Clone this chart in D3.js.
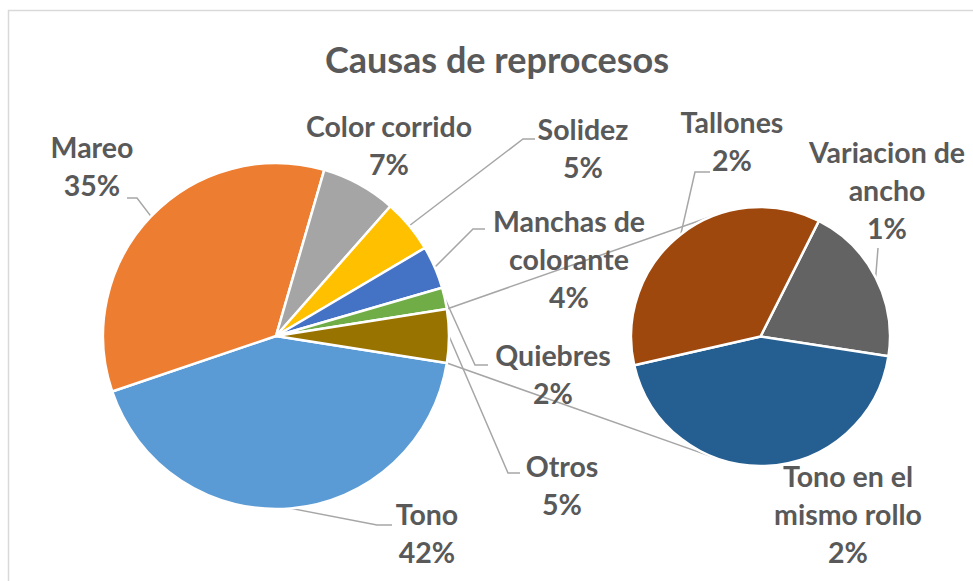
<!DOCTYPE html>
<html>
<head>
<meta charset="utf-8">
<script src="https://cdn.jsdelivr.net/npm/d3@7"></script>
<style>
	html, body { margin: 0; padding: 0; background: #fff; }
	text { font-family: Lato, "Open Sans", sans-serif; font-weight: bold; fill: #595959; }
</style>
</head>
<body>
<svg id="chart" width="973" height="581"></svg>
<script>
// main pie, clockwise starting from the lower edge of "Otros"
const mainCats = ["Tono", "Mareo", "Color corrido", "Solidez", "Manchas de colorante", "Quiebres", "Otros"]
const mainVals = [0.423, 0.347, 0.07, 0.05, 0.04, 0.02, 0.05]
const mainColours = ["#5B9BD5", "#ED7D31", "#A5A5A5", "#FFC000", "#4472C4", "#70AD47", "#997300"]

// secondary pie (breakdown of "Otros")
const subCats = ["Variacion de ancho", "Tono en el mismo rollo", "Tallones"]
const subVals = [0.01, 0.022, 0.018]
const subColours = ["#636363", "#255E91", "#9E480E"]

// how each label is split into lines
const labelLines = {
	"Manchas de colorante": ["Manchas de", "colorante"],
	"Variacion de ancho": ["Variacion de", "ancho"],
	"Tono en el mismo rollo": ["Tono en el", "mismo rollo"]
}

// label placement: centre x, first baseline, leader elbow + end (null = no leader)
const labelLayout = {
	"Tono": { x: 427, y: 525, leader: [[377, 525], [392, 525]] },
	"Mareo": { x: 92, y: 158, leader: [[137, 198], [127, 198]] },
	"Color corrido": { x: 389, y: 137, leader: null },
	"Solidez": { x: 583, y: 140, leader: [[523, 139], [535, 139]] },
	"Manchas de colorante": { x: 569, y: 232, leader: [[473, 229], [485, 229]] },
	"Quiebres": { x: 553, y: 366, leader: [[475, 365], [488, 365]] },
	"Otros": { x: 562, y: 477, leader: [[508, 473], [520, 473]] },
	"Variacion de ancho": { x: 887, y: 163, leader: [[878, 248]] },
	"Tono en el mismo rollo": { x: 848, y: 487, leader: null },
	"Tallones": { x: 732, y: 133, leader: [[695, 172], [710, 172]] }
}

const width = 973
const height = 581
const lineGap = 38
const fmt = d3.format(".0%")

const main = { cx: 276, cy: 336, r: 173 }
const sub = { cx: 760.5, cy: 336.5, r: 129.5 }

const svg = d3.select("#chart")

// chart frame
svg.append("rect")
	.attr("x", 8.5)
	.attr("y", 10.5)
	.attr("width", width + 20)
	.attr("height", height + 20)
	.attr("fill", "#fff")
	.attr("stroke", "#D9D9D9")
	.attr("stroke-width", 1.5)

svg.append("text")
	.attr("x", 497)
	.attr("y", 73)
	.attr("text-anchor", "middle")
	.style("font-size", "36px")
	.text("Causas de reprocesos")

/**
 * "Otros" should sit centred on the right side of the main pie,
 * so the start angle is derived from its share.
 */
const otrosIdx = mainCats.indexOf("Otros")
const otrosShare = mainVals[otrosIdx] / d3.sum(mainVals)
const mainStart = Math.PI / 2 + otrosShare * Math.PI

const mainArcs = d3.pie()
	.sort(null)
	.startAngle(mainStart)
	.endAngle(mainStart + 2 * Math.PI)(mainVals)

const subStart = 26.8 * Math.PI / 180
const subArcs = d3.pie()
	.sort(null)
	.startAngle(subStart)
	.endAngle(subStart + 2 * Math.PI)(subVals)

const polar = (c, r, a) => [c.cx + r * Math.sin(a), c.cy - r * Math.cos(a)]

// tangent point on circle c seen from point p (side = +1 / -1)
const tangent = (p, c, side) => {
	const dx = p[0] - c.cx
	const dy = p[1] - c.cy
	const d = Math.hypot(dx, dy)
	const theta = Math.atan2(dy, dx)
	const alpha = Math.acos(c.r / d)
	const t = theta + side * alpha
	return [c.cx + c.r * Math.cos(t), c.cy + c.r * Math.sin(t)]
}

const leaderG = svg.append("g")
	.attr("fill", "none")
	.attr("stroke", "#A6A6A6")
	.attr("stroke-width", 1.5)

// connector lines between "Otros" and the secondary pie
const otrosArc = mainArcs[otrosIdx]
const pTop = polar(main, main.r, otrosArc.startAngle)
const pBot = polar(main, main.r, otrosArc.endAngle)
leaderG.append("line")
	.attr("x1", pTop[0]).attr("y1", pTop[1])
	.attr("x2", tangent(pTop, sub, 1)[0]).attr("y2", tangent(pTop, sub, 1)[1])
leaderG.append("line")
	.attr("x1", pBot[0]).attr("y1", pBot[1])
	.attr("x2", tangent(pBot, sub, -1)[0]).attr("y2", tangent(pBot, sub, -1)[1])

const arcMain = d3.arc().innerRadius(0).outerRadius(main.r)
const arcSub = d3.arc().innerRadius(0).outerRadius(sub.r)

svg.append("g")
	.attr("transform", `translate(${main.cx},${main.cy})`)
	.selectAll("path")
	.data(mainArcs)
	.enter()
	.append("path")
	.attr("d", arcMain)
	.attr("fill", (d, i) => mainColours[i])
	.attr("stroke", "#fff")
	.attr("stroke-width", 2.5)
	.attr("stroke-linejoin", "round")

svg.append("g")
	.attr("transform", `translate(${sub.cx},${sub.cy})`)
	.selectAll("path")
	.data(subArcs)
	.enter()
	.append("path")
	.attr("d", arcSub)
	.attr("fill", (d, i) => subColours[i])
	.attr("stroke", "#fff")
	.attr("stroke-width", 2.5)
	.attr("stroke-linejoin", "round")

// labels and leader lines
const allLabels = [
	...mainArcs.map((d, i) => ({ name: mainCats[i], arc: d, circle: main })),
	...subArcs.map((d, i) => ({ name: subCats[i], arc: d, circle: sub }))
]

const lineGen = d3.line()

allLabels.forEach(l => {
	const lay = labelLayout[l.name]
	const lines = (labelLines[l.name] || [l.name]).concat(fmt(l.arc.data))

	if (lay.leader) {
		const mid = (l.arc.startAngle + l.arc.endAngle) / 2
		const start = polar(l.circle, l.circle.r, mid)
		leaderG.append("path").attr("d", lineGen([start, ...lay.leader]))
	}

	const t = svg.append("text")
		.attr("text-anchor", "middle")
		.style("font-size", "28.5px")
	lines.forEach((s, j) => {
		t.append("tspan")
			.attr("x", lay.x)
			.attr("y", lay.y + j * lineGap)
			.text(s)
	})
})
</script>
</body>
</html>
